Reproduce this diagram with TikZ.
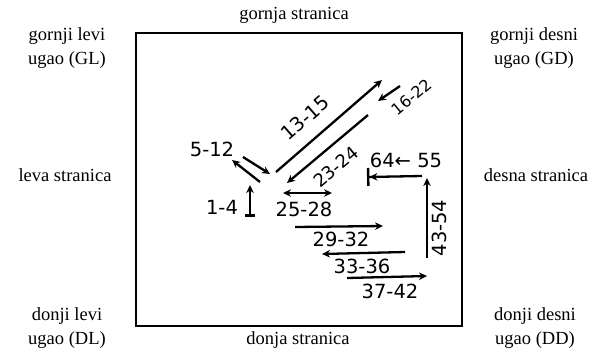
\documentclass[tikz,border=0pt]{standalone}
\usepackage{fontspec}
\setmainfont{Liberation Serif}
\newfontfamily\hand{DejaVu Sans}
\usetikzlibrary{arrows.meta}
\begin{document}
\begin{tikzpicture}[x=1pt,y=-1pt,
  outer/.style={font=\fontsize{18.5}{24}\selectfont, align=center, inner sep=0pt},
  hw/.style={font=\hand\fontsize{19.5}{20}\selectfont, inner sep=0pt},
  hwm/.style={font=\hand\fontsize{18}{19}\selectfont, inner sep=0pt},
  hws/.style={font=\hand\fontsize{16}{17}\selectfont, inner sep=0pt},
  arr/.style={line width=2.3pt, -{Stealth[length=8pt,width=7.5pt]}},
]
\useasboundingbox (0,0) rectangle (593,354);
\node[draw, line width=1.8pt, minimum width=326pt, minimum height=293pt, anchor=north west, inner sep=0pt] (box) at (135,32) {};
% outer labels
\node[outer] (top) at (294,15) {gornja stranica};
\node[outer] (bot) at (298,340) {donja stranica};
\node[outer] (lft) at (65,175) {leva stranica};
\node[outer] (rgt) at (536,175) {desna stranica};
\node[outer] (gl) at (67,48) {gornji levi\\ugao (GL)};
\node[outer] (gd) at (534,48) {gornji desni\\ugao (GD)};
\node[outer] (dl) at (67,328) {donji levi\\ugao (DL)};
\node[outer] (dd) at (535,328) {donji desni\\ugao (DD)};
% arrow end points
\coordinate (a1s) at (250,217); \coordinate (a1e) at (250,185);
\coordinate (a2s) at (260,182); \coordinate (a2e) at (232,160);
\coordinate (a3s) at (243,157); \coordinate (a3e) at (270,174);
\coordinate (a4s) at (276,172); \coordinate (a4e) at (382,80);
\coordinate (a5s) at (400,86);  \coordinate (a5e) at (378,101);
\coordinate (a6s) at (368,115); \coordinate (a6e) at (287,183);
\coordinate (a7s) at (283,193); \coordinate (a7e) at (332,193);
\coordinate (a8s) at (295,227); \coordinate (a8e) at (383,226);
\coordinate (a9s) at (405,252); \coordinate (a9e) at (322,254);
\coordinate (a10s) at (347,278); \coordinate (a10e) at (427,276);
\coordinate (a11s) at (427,258); \coordinate (a11e) at (427,178);
\coordinate (a12s) at (422,176); \coordinate (a12e) at (367,177);
% arrows
\draw[line width=2.3pt, {Bar[width=10pt,line width=3pt]}-{Stealth[length=8pt,width=7.5pt]}] (a1s) -- (a1e);
\draw[arr] (a2s) -- (a2e);
\draw[arr] (a3s) -- (a3e);
\draw[arr] (a4s) -- (a4e);
\draw[arr] (a5s) -- (a5e);
\draw[arr] (a6s) -- (a6e);
\draw[line width=2.3pt, {Stealth[length=8pt,width=7.5pt]}-{Stealth[length=8pt,width=7.5pt]}] (a7s) -- (a7e);
\draw[arr] (a8s) -- (a8e);
\draw[arr] (a9s) -- (a9e);
\draw[arr] (a10s) -- (a10e);
\draw[arr] (a11s) -- (a11e);
\draw[line width=2.3pt, -{Stealth[length=8pt,width=7.5pt] Bar[width=18pt,line width=2.4pt]}] (a12s) -- (a12e);
% handwritten labels
\node[hw] (l512) at (212,149) {5-12};
\node[hw] (l14) at (222,207) {1-4};
\node[hw, rotate=41] (l1315) at (305,118) {13-15};
\node[hws, rotate=40] (l1622) at (412,97) {16-22};
\node[hwm, rotate=40] (l2324) at (336,167) {23-24};
\node[hw] (l6455) at (406,160) {64← 55};
\node[hw] (l2528) at (304,209) {25-28};
\node[hw] (l2932) at (341,239) {29-32};
\node[hw] (l3336) at (362,266) {33-36};
\node[hw] (l3742) at (390,291) {37-42};
\node[hw, rotate=90] (l4354) at (439,228) {43-54};
\end{tikzpicture}
\end{document}
